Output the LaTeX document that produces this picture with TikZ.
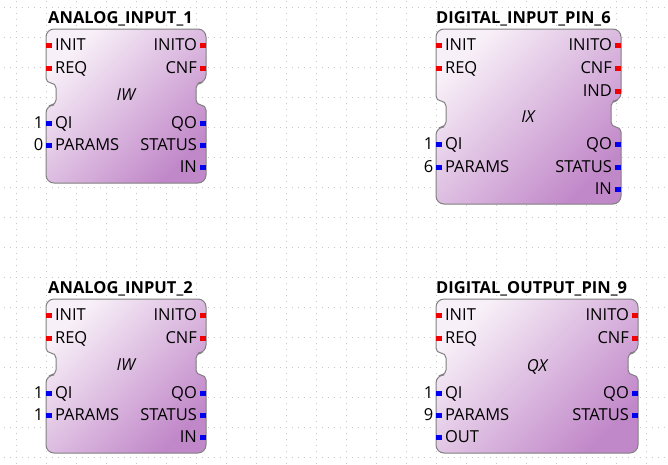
\documentclass[tikz,border=0pt]{standalone}
\usepackage{fontspec}
\setmainfont{Open Sans}
\usetikzlibrary{positioning}
\usetikzlibrary{calc}

\definecolor{fbtop}{HTML}{F8F0F8}
\definecolor{fbbot}{HTML}{C188C9}
\definecolor{fbline}{HTML}{808080}
\definecolor{evred}{HTML}{F00000}
\definecolor{datblue}{HTML}{0000F0}
\definecolor{gridgray}{HTML}{C8C8C8}

\newcommand{\fbfont}{\fontsize{16.5pt}{19pt}\selectfont}
% outline of a function block: left, top, right, notch top, notch bottom, bottom
\newcommand{\fbframe}[6]{%
  \shadedraw[fbbody] (#1+20,#2) -- (#3,#2) -- (#3,#4) [rounded corners=5pt] -- (#3-10,#4)
    -- (#3-10,#5) -- (#3,#5) [rounded corners=8pt] -- (#3,#6) -- (#1,#6) -- (#1,#5)
    [rounded corners=5pt] -- (#1+10,#5) -- (#1+10,#4) -- (#1,#4) [rounded corners=8pt]
    -- (#1,#2) -- cycle;}

\begin{document}
\begin{tikzpicture}[
        x=1pt, y=-1pt,
        node distance=2.5pt,
        every node/.style={font=\fbfont},
        griddot/.style={draw=gridgray, line width=1pt,
                    dash pattern=on 1pt off 5pt},
        fbbody/.style={draw=fbline, line width=1pt, rounded corners=8pt,
                    top color=fbtop, bottom color=fbbot, shading angle=45},
        evpin/.style={fill=evred, inner sep=0pt,
                    minimum width=6pt, minimum height=5pt},
        datpin/.style={fill=datblue, inner sep=0pt,
                    minimum width=6pt, minimum height=5pt},
        pinlbl/.style={inner sep=0pt, text height=11.5pt, text depth=0pt},
        fbtitle/.style={pinlbl, anchor=west, font=\fbfont\bfseries},
        fbtype/.style={pinlbl, font=\fbfont\itshape}
    ]

    % ------- background grid -------
    \useasboundingbox (0,0) rectangle (668,464);
    \fill[white] (0,0) rectangle (668,464);
    \begin{scope}
        \clip (0,0) rectangle (668,464);
        \foreach \gx in {16,46,...,646} \draw[griddot] (\gx,0.5) -- (\gx,464);
        \foreach \gy in {7,37,...,457} \draw[griddot] (3.5,\gy) -- (668,\gy);
    \end{scope}

    % ------- ANALOG_INPUT_1 (top left) -------
    \fbframe{46}{29}{206}{83}{105}{183}
    \node[fbtitle] (a1) at (48,18) {ANALOG\_INPUT\_1};
    \node[fbtype] (a1type) at (126,95) {IW};

    \node[evpin, anchor=west] (a1init) at (46,45) {};
    \node[evpin, anchor=west] (a1req) at (46,68) {};
    \node[evpin, anchor=east] (a1inito) at (206,45) {};
    \node[evpin, anchor=east] (a1cnf) at (206,68) {};
    \node[datpin, anchor=west] (a1qi) at (46,123) {};
    \node[datpin, anchor=west] (a1params) at (46,145) {};
    \node[datpin, anchor=east] (a1qo) at (206,123) {};
    \node[datpin, anchor=east] (a1status) at (206,145) {};
    \node[datpin, anchor=east] (a1in) at (206,167) {};

    \node[pinlbl, right=of a1init] (a1initL) {INIT};
    \node[pinlbl, right=of a1req] (a1reqL) {REQ};
    \node[pinlbl, left=of a1inito] (a1initoL) {INITO};
    \node[pinlbl, left=of a1cnf] (a1cnfL) {CNF};
    \node[pinlbl, right=of a1qi] (a1qiL) {QI};
    \node[pinlbl, right=of a1params] (a1paramsL) {PARAMS};
    \node[pinlbl, left=of a1qo] (a1qoL) {QO};
    \node[pinlbl, left=of a1status] (a1statusL) {STATUS};
    \node[pinlbl, left=of a1in] (a1inL) {IN};
    \node[pinlbl, left=of a1qi] (a1qiV) {1};
    \node[pinlbl, left=of a1params] (a1paramsV) {0};

    % ------- DIGITAL_INPUT_PIN_6 (top right) -------
    \fbframe{436}{29}{621}{101}{127}{204}
    \node[fbtitle] (d6) at (436,18) {DIGITAL\_INPUT\_PIN\_6};
    \node[fbtype] (d6type) at (528,117) {IX};

    \node[evpin, anchor=west] (d6init) at (436,45) {};
    \node[evpin, anchor=west] (d6req) at (436,68) {};
    \node[evpin, anchor=east] (d6inito) at (621,45) {};
    \node[evpin, anchor=east] (d6cnf) at (621,68) {};
    \node[evpin, anchor=east] (d6ind) at (621,91) {};
    \node[datpin, anchor=west] (d6qi) at (436,144) {};
    \node[datpin, anchor=west] (d6params) at (436,167) {};
    \node[datpin, anchor=east] (d6qo) at (621,144) {};
    \node[datpin, anchor=east] (d6status) at (621,167) {};
    \node[datpin, anchor=east] (d6in) at (621,189) {};

    \node[pinlbl, right=of d6init] (d6initL) {INIT};
    \node[pinlbl, right=of d6req] (d6reqL) {REQ};
    \node[pinlbl, left=of d6inito] (d6initoL) {INITO};
    \node[pinlbl, left=of d6cnf] (d6cnfL) {CNF};
    \node[pinlbl, left=of d6ind] (d6indL) {IND};
    \node[pinlbl, right=of d6qi] (d6qiL) {QI};
    \node[pinlbl, right=of d6params] (d6paramsL) {PARAMS};
    \node[pinlbl, left=of d6qo] (d6qoL) {QO};
    \node[pinlbl, left=of d6status] (d6statusL) {STATUS};
    \node[pinlbl, left=of d6in] (d6inL) {IN};
    \node[pinlbl, left=of d6qi] (d6qiV) {1};
    \node[pinlbl, left=of d6params] (d6paramsV) {6};

    % ------- ANALOG_INPUT_2 (bottom left) -------
    \fbframe{46}{299}{206}{353}{375}{453}
    \node[fbtitle] (a2) at (48,288) {ANALOG\_INPUT\_2};
    \node[fbtype] (a2type) at (126,365) {IW};

    \node[evpin, anchor=west] (a2init) at (46,315) {};
    \node[evpin, anchor=west] (a2req) at (46,338) {};
    \node[evpin, anchor=east] (a2inito) at (206,315) {};
    \node[evpin, anchor=east] (a2cnf) at (206,338) {};
    \node[datpin, anchor=west] (a2qi) at (46,393) {};
    \node[datpin, anchor=west] (a2params) at (46,415) {};
    \node[datpin, anchor=east] (a2qo) at (206,393) {};
    \node[datpin, anchor=east] (a2status) at (206,415) {};
    \node[datpin, anchor=east] (a2in) at (206,437) {};

    \node[pinlbl, right=of a2init] (a2initL) {INIT};
    \node[pinlbl, right=of a2req] (a2reqL) {REQ};
    \node[pinlbl, left=of a2inito] (a2initoL) {INITO};
    \node[pinlbl, left=of a2cnf] (a2cnfL) {CNF};
    \node[pinlbl, right=of a2qi] (a2qiL) {QI};
    \node[pinlbl, right=of a2params] (a2paramsL) {PARAMS};
    \node[pinlbl, left=of a2qo] (a2qoL) {QO};
    \node[pinlbl, left=of a2status] (a2statusL) {STATUS};
    \node[pinlbl, left=of a2in] (a2inL) {IN};
    \node[pinlbl, left=of a2qi] (a2qiV) {1};
    \node[pinlbl, left=of a2params] (a2paramsV) {1};

    % ------- DIGITAL_OUTPUT_PIN_9 (bottom right) -------
    \fbframe{436}{299}{638}{353}{375}{453}
    \node[fbtitle] (d9) at (436,288) {DIGITAL\_OUTPUT\_PIN\_9};
    \node[fbtype] (d9type) at (537,366) {QX};

    \node[evpin, anchor=west] (d9init) at (436,315) {};
    \node[evpin, anchor=west] (d9req) at (436,338) {};
    \node[evpin, anchor=east] (d9inito) at (638,315) {};
    \node[evpin, anchor=east] (d9cnf) at (638,338) {};
    \node[datpin, anchor=west] (d9qi) at (436,393) {};
    \node[datpin, anchor=west] (d9params) at (436,415) {};
    \node[datpin, anchor=west] (d9out) at (436,437) {};
    \node[datpin, anchor=east] (d9qo) at (638,393) {};
    \node[datpin, anchor=east] (d9status) at (638,415) {};

    \node[pinlbl, right=of d9init] (d9initL) {INIT};
    \node[pinlbl, right=of d9req] (d9reqL) {REQ};
    \node[pinlbl, left=of d9inito] (d9initoL) {INITO};
    \node[pinlbl, left=of d9cnf] (d9cnfL) {CNF};
    \node[pinlbl, right=of d9qi] (d9qiL) {QI};
    \node[pinlbl, right=of d9params] (d9paramsL) {PARAMS};
    \node[pinlbl, right=of d9out] (d9outL) {OUT};
    \node[pinlbl, left=of d9qo] (d9qoL) {QO};
    \node[pinlbl, left=of d9status] (d9statusL) {STATUS};
    \node[pinlbl, left=of d9qi] (d9qiV) {1};
    \node[pinlbl, left=of d9params] (d9paramsV) {9};

\end{tikzpicture}
\end{document}
